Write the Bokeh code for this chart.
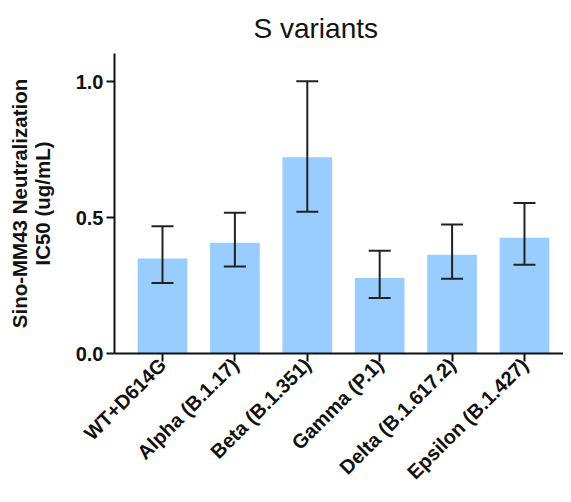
import math
from bokeh.plotting import figure
from bokeh.models import Range1d, FixedTicker, ColumnDataSource, Whisker, TeeHead, Title
from bokeh.embed import file_html
from bokeh.resources import INLINE

categories = ["WT+D614G", "Alpha (B.1.17)", "Beta (B.1.351)", "Gamma (P.1)", "Delta (B.1.617.2)", "Epsilon (B.1.427)"]
means = [0.350, 0.408, 0.722, 0.278, 0.363, 0.426]
upper = [0.468, 0.518, 1.002, 0.378, 0.475, 0.554]
lower = [0.259, 0.320, 0.522, 0.204, 0.275, 0.327]
y_ticks = [0.0, 0.5, 1.0]
y_tick_labels = ["0.0", "0.5", "1.0"]

xs = list(range(len(categories)))
src = ColumnDataSource(dict(x=xs, top=means, upper=upper, lower=lower))

p = figure(width=563, height=494, output_backend="svg", toolbar_location=None,
           x_range=Range1d(-0.663, 5.539), y_range=Range1d(0, 1.104),
           min_border_left=114, min_border_right=0, min_border_top=53, min_border_bottom=134)
p.outline_line_color = None
p.grid.visible = False
p.background_fill_color = "white"
p.border_fill_color = "white"

p.vbar(x="x", top="top", bottom=0, width=0.686, source=src,
       fill_color="#99CCFF", line_color=None)

w = Whisker(base="x", upper="upper", lower="lower", source=src, level="overlay",
            line_color="#222222", line_width=2,
            upper_head=TeeHead(size=22, line_color="#222222", line_width=2),
            lower_head=TeeHead(size=22, line_color="#222222", line_width=2))
p.add_layout(w)

title = Title(text="S variants", align="left", offset=139, standoff=19,
              text_font="Liberation Sans", text_font_size="28px",
              text_font_style="normal", text_color="#111111")
p.add_layout(title, "above")

for ax in (p.xaxis[0], p.yaxis[0]):
    ax.axis_line_width = 2
    ax.axis_line_color = "#111111"
    ax.major_tick_line_width = 2
    ax.major_tick_line_color = "#111111"
    ax.major_tick_in = 0
    ax.major_tick_out = 8
    ax.minor_tick_line_color = None
    ax.major_label_text_font = "Liberation Sans"
    ax.major_label_text_font_style = "bold"
    ax.major_label_text_font_size = "20px"
    ax.major_label_text_color = "#111111"

p.xaxis[0].ticker = FixedTicker(ticks=xs)
p.xaxis[0].major_label_overrides = {i: c for i, c in enumerate(categories)}
p.xaxis[0].major_label_orientation = math.pi / 4
p.xaxis[0].major_label_standoff = 0

p.yaxis[0].ticker = FixedTicker(ticks=y_ticks)
p.yaxis[0].major_label_overrides = {t: l for t, l in zip(y_ticks, y_tick_labels)}
p.yaxis[0].major_label_standoff = 3
p.yaxis[0].axis_label = "Sino-MM43 Neutralization\nIC50 (ug/mL)"
p.yaxis[0].axis_label_text_font = "Liberation Sans"
p.yaxis[0].axis_label_text_font_style = "bold"
p.yaxis[0].axis_label_text_font_size = "20.5px"
p.yaxis[0].axis_label_text_line_height = 1.0
p.yaxis[0].axis_label_text_color = "#111111"
p.yaxis[0].axis_label_standoff = 19

open("out.html", "w").write(file_html(p, INLINE))
